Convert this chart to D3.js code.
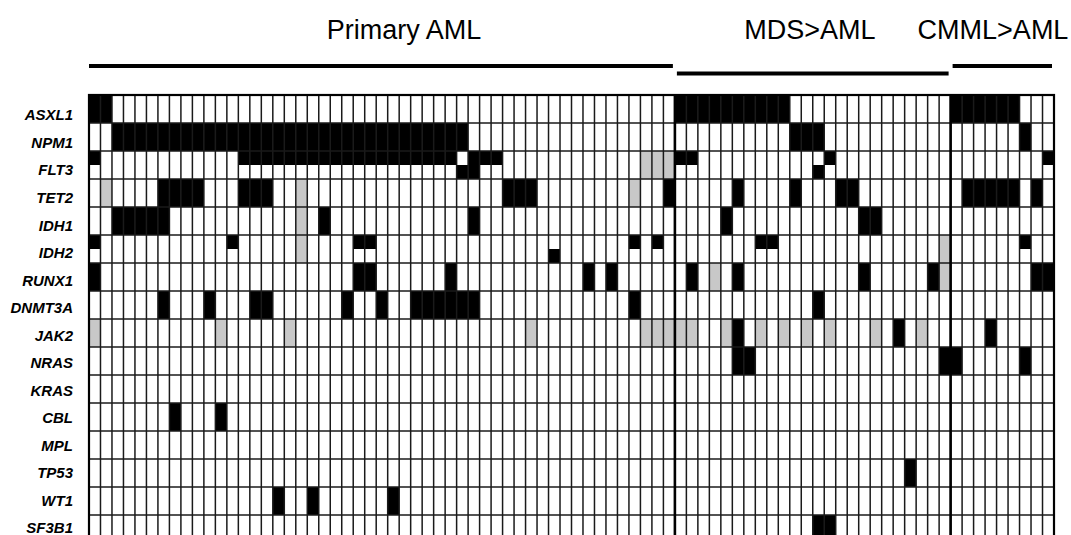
<!DOCTYPE html>
<html>
<head>
<meta charset="utf-8">
<script src="https://cdn.jsdelivr.net/npm/d3@7"></script>
<style>
  body { margin: 0; background: #fff; }
</style>
</head>
<body>
<div id="chart"></div>
<script>
var svgWidth = 1071;
var svgHeight = 535;

// Rows
var genes = ["ASXL1", "NPM1", "FLT3", "TET2", "IDH1", "IDH2", "RUNX1", "DNMT3A",
             "JAK2", "NRAS", "KRAS", "CBL", "MPL", "TP53", "WT1", "SF3B1"];

// Patient groups (columns)
var groupNames = ["Primary AML", "MDS>AML", "CMML>AML"];
var groupSizes = [51, 24, 9];

// X = mutated (black), g = grey, . = none. Spaces split the three groups.
// topHalf is the whole cell unless bottomHalf gives a different lower half.
var topHalf = [
  "XX................................................. XXXXXXXXXX.............. XXXXXX...",
  "..XXXXXXXXXXXXXXXXXXXXXXXXXXXXXXX.................. ..........XXX........... ......X..",
  "X............XXXXXXXXXXXXXXXXXXX.XXX............ggg XX...........X.......... ........X",
  ".g....XXXX...XXX..g.................XXX........g..X .....X....X...XX........ .XXXXX.X.",
  "..XXXXX...........g.X............X................. ....X...........XX...... .........",
  "X...........X.....g....XX......................X.X. .......XX..............g ......X..",
  "X......................XX......X...........X.X..... .X.g.X..........X.....Xg .......XX",
  "......X...X...XX......X..X..XXXXXX.............X... ............X........... .........",
  "g..........g.....g....................g.........ggg gg..gX.g.g.g.g...g.X.g.. ...X.....",
  "................................................... .....XX................X X.....X..",
  "................................................... ........................ .........",
  ".......X...X....................................... ........................ .........",
  "................................................... ........................ .........",
  "................................................... ....................X... .........",
  "................X..X......X........................ ........................ .........",
  "................................................... ............XX.......... ........."
];
var bottomHalf = [
  null,
  null,
  "................................XX..............ggg ............X........... .........",
  null,
  null,
  "..................g.....................X.......... .......................g .........",
  null, null, null, null, null, null, null, null, null, null
];

var nCols = d3.sum(groupSizes);
var cols = d3.range(nCols);

var svg = d3.select("#chart")
  .append("svg")
  .attr("width", svgWidth)
  .attr("height", svgHeight);

svg.append("rect")
  .attr("width", svgWidth)
  .attr("height", svgHeight)
  .attr("fill", "#fff");

var x = d3.scaleBand()
  .domain(cols)
  .range([89, 1054]);

var y = d3.scaleBand()
  .domain(genes)
  .range([95, 95 + genes.length * 28]);

// labels sit on their own, slightly tighter spacing
var yLabel = d3.scalePoint()
  .domain(genes)
  .range([115, 528]);

// build the half-cells
var cells = [];
genes.forEach(function(gene, i) {
  var top = topHalf[i].replace(/ /g, "");
  var bot = bottomHalf[i] ? bottomHalf[i].replace(/ /g, "") : top;
  cols.forEach(function(c) {
    var t = top[c], b = bot[c];
    if (t === b) {
      if (t !== ".") cells.push({gene: gene, col: c, part: "full", code: t});
    } else {
      if (t !== ".") cells.push({gene: gene, col: c, part: "top", code: t});
      if (b !== ".") cells.push({gene: gene, col: c, part: "bottom", code: b});
    }
  });
});

var half = y.bandwidth() / 2;

svg.append("g").selectAll("rect")
  .data(cells)
  .enter()
  .append("rect")
  .attr("x", d => x(d.col))
  .attr("y", d => y(d.gene) + (d.part === "bottom" ? half : 0))
  .attr("width", x.bandwidth())
  .attr("height", d => d.part === "full" ? y.bandwidth() : half)
  .attr("fill", d => d.code === "X" ? "#000" : "#c8c8c8");

// grid lines
var grid = svg.append("g")
  .attr("stroke", "#1a1a1a")
  .attr("stroke-width", 1.5);

grid.selectAll("line.v")
  .data(cols.slice(1))
  .enter()
  .append("line")
  .attr("x1", d => x(d))
  .attr("x2", d => x(d))
  .attr("y1", y.range()[0])
  .attr("y2", y.range()[1]);

grid.selectAll("line.h")
  .data(genes.slice(1))
  .enter()
  .append("line")
  .attr("x1", x.range()[0])
  .attr("x2", x.range()[1])
  .attr("y1", d => y(d))
  .attr("y2", d => y(d));

// group boundaries
var starts = [];
var acc = 0;
groupSizes.forEach(function(s) { starts.push(acc); acc += s; });

svg.append("g").selectAll("line")
  .data(starts.slice(1))
  .enter()
  .append("line")
  .attr("x1", d => x(d))
  .attr("x2", d => x(d))
  .attr("y1", y.range()[0])
  .attr("y2", y.range()[1])
  .attr("stroke", "#000")
  .attr("stroke-width", 2.6);

// outer border
svg.append("rect")
  .attr("x", x.range()[0])
  .attr("y", y.range()[0])
  .attr("width", x.range()[1] - x.range()[0])
  .attr("height", y.range()[1] - y.range()[0])
  .attr("fill", "none")
  .attr("stroke", "#000")
  .attr("stroke-width", 2.2);

// gene labels
svg.append("g").selectAll("text")
  .data(genes)
  .enter()
  .append("text")
  .attr("x", 73)
  .attr("y", d => yLabel(d))
  .attr("dy", "0.36em")
  .attr("text-anchor", "end")
  .style("font-family", "Liberation Sans, Arial, sans-serif")
  .style("font-weight", "bold")
  .style("font-style", "italic")
  .style("font-size", "15px")
  .text(d => d);

// group bars and titles
var groups = groupNames.map(function(name, i) {
  return {name: name, first: starts[i], last: starts[i] + groupSizes[i] - 1};
});
var barY = [66, 73.5, 66];
var titleX = [404, 810, 993];

svg.append("g").selectAll("line")
  .data(groups)
  .enter()
  .append("line")
  .attr("x1", (d, i) => x(d.first) + (i === 0 ? 0 : 2))
  .attr("x2", d => x(d.last) + x.bandwidth() - 2)
  .attr("y1", (d, i) => barY[i])
  .attr("y2", (d, i) => barY[i])
  .attr("stroke", "#000")
  .attr("stroke-width", 4);

svg.append("g").selectAll("text")
  .data(groups)
  .enter()
  .append("text")
  .attr("x", (d, i) => titleX[i])
  .attr("y", 39)
  .attr("text-anchor", "middle")
  .style("font-family", "Liberation Sans, Arial, sans-serif")
  .style("font-size", "27px")
  .text(d => d.name);
</script>
</body>
</html>
